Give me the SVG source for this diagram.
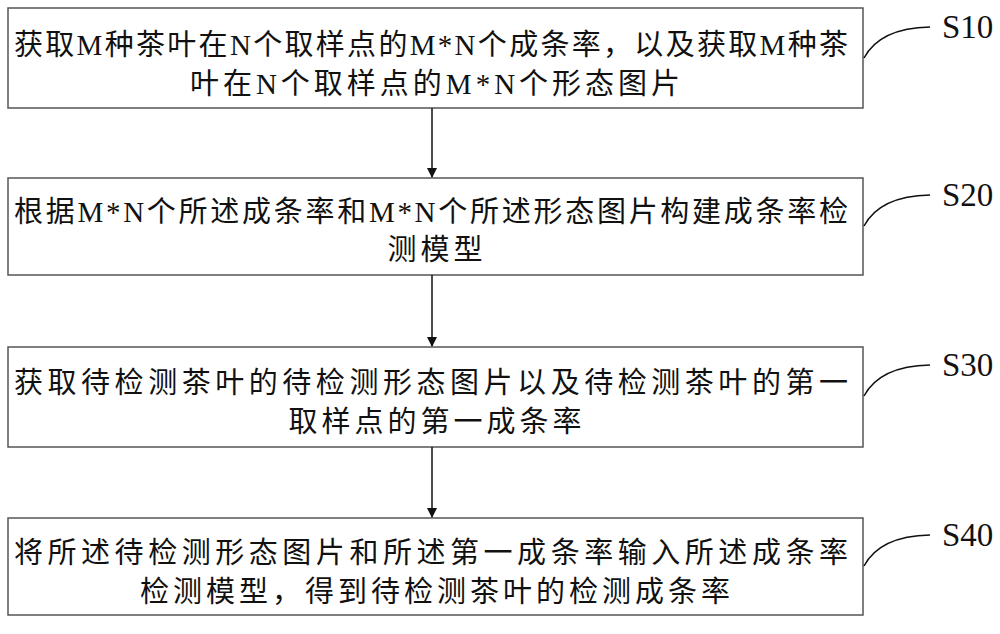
<svg xmlns="http://www.w3.org/2000/svg" width="1000" height="634" viewBox="0 0 1000 634">
<style>
.b{fill:#fff;stroke:#555;stroke-width:1.5}
.t{font-family:"Liberation Serif","Noto Sans CJK SC",serif;font-size:29px;fill:#111}
.m{text-anchor:middle;letter-spacing:4px}
.l{font-family:"Liberation Serif",serif;font-size:33px;fill:#111}
.c{fill:none;stroke:#111;stroke-width:1.5}
</style>
<defs><marker id="a" markerWidth="10" markerHeight="10" refX="9" refY="5" orient="auto" markerUnits="userSpaceOnUse"><path d="M0,0 L10,5 L0,10 z" fill="#111"/></marker></defs>
<rect width="1000" height="634" fill="#fff"/>
<g id="s10"><rect class="b" x="8" y="8" width="855" height="100"/>
<text class="t" x="14" y="55" textLength="834" lengthAdjust="spacing">获取M种茶叶在N个取样点的M*N个成条率，以及获取M种茶</text>
<text class="t m" x="437" y="94">叶在N个取样点的M*N个形态图片</text>
<path class="c" d="M864,58 Q880,28 930,27"/><text class="l" x="942" y="38">S10</text></g>
<g id="s20"><rect class="b" x="8" y="178" width="855" height="97"/>
<text class="t" x="14" y="222" textLength="834" lengthAdjust="spacing">根据M*N个所述成条率和M*N个所述形态图片构建成条率检</text>
<text class="t m" x="437" y="260">测模型</text>
<path class="c" d="M864,226 Q880,196 930,195"/><text class="l" x="942" y="206">S20</text></g>
<g id="s30"><rect class="b" x="8" y="347" width="855" height="100"/>
<text class="t" x="14" y="393" textLength="834" lengthAdjust="spacing">获取待检测茶叶的待检测形态图片以及待检测茶叶的第一</text>
<text class="t m" x="437" y="432">取样点的第一成条率</text>
<path class="c" d="M864,396 Q880,366 930,365"/><text class="l" x="942" y="376">S30</text></g>
<g id="s40"><rect class="b" x="8" y="518" width="855" height="97"/>
<text class="t" x="14" y="563" textLength="834" lengthAdjust="spacing">将所述待检测形态图片和所述第一成条率输入所述成条率</text>
<text class="t m" x="437" y="602">检测模型，得到待检测茶叶的检测成条率</text>
<path class="c" d="M864,566 Q880,536 930,535"/><text class="l" x="942" y="546">S40</text></g>
<g id="connectors">
<line class="c" x1="432" y1="108" x2="432" y2="177" marker-end="url(#a)"/>
<line class="c" x1="432" y1="275" x2="432" y2="346" marker-end="url(#a)"/>
<line class="c" x1="432" y1="447" x2="432" y2="517" marker-end="url(#a)"/>
</g>
</svg>
